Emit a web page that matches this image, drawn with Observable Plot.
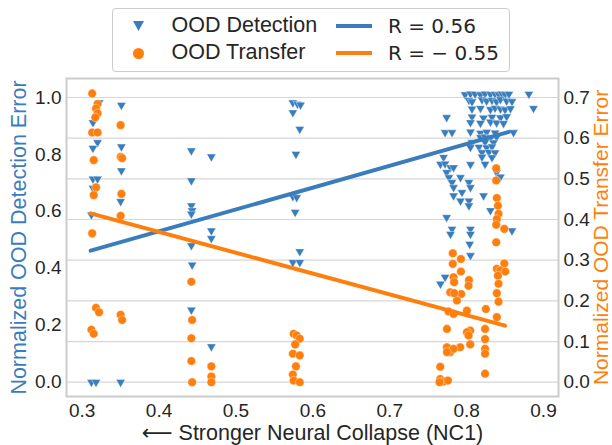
<!DOCTYPE html>
<html><head><meta charset="utf-8">
<script src="https://cdn.jsdelivr.net/npm/d3@7"></script>
<script src="https://cdn.jsdelivr.net/npm/@observablehq/plot@0.6"></script>
<style>
body{margin:0;background:#fff;}
#wrap{width:612px;}
#legend{position:relative;width:612px;height:75px;font-family:"Liberation Sans",Arial,sans-serif;color:#262626;}
#legend .box{position:absolute;left:112px;top:8px;width:398px;height:64px;border:1px solid #cccccc;border-radius:4px;box-sizing:border-box;}
#legend .t{position:absolute;white-space:nowrap;line-height:1;transform:translateY(-50%);}
#legend .ln{position:absolute;height:4px;}
#legend svg{position:absolute;}
</style></head><body>
<div id="wrap"><div id="legend"></div><div id="chart"></div></div>
<script>
const BLUE = "#3a7dbd", ORANGE = "#ff7f0e";
const xTicks = [0.3, 0.4, 0.5, 0.6, 0.7, 0.8, 0.9];
const leftTicks = [0.0, 0.2, 0.4, 0.6, 0.8, 1.0];
const rightTicks = [0.0, 0.1, 0.2, 0.3, 0.4, 0.5, 0.6, 0.7];
const rightMax = 0.7;
const seriesNames = ["OOD Detection", "OOD Transfer"];
const fitLabels = ["R = 0.56", "R = \u2212 0.55"];
const xTitle = "\u27F5 Stronger Neural Collapse (NC1)";
const leftTitle = "Normalized OOD Detection Error";
const rightTitle = "Normalized OOD Transfer Error";

// OOD detection (left axis)
const detX = [
 0.322,0.314,0.320,0.314,0.314,0.320,0.314,0.312,0.312,0.318,
 0.351,0.351,0.351,0.350,0.350,
 0.442,0.442,0.442,0.443,0.442,0.442,0.443,0.442,0.468,0.468,0.468,0.468,
 0.574,0.580,0.584,0.574,0.583,0.578,0.574,0.579,0.577,0.583,0.574,0.583,
 0.798,0.805,0.811,0.818,0.824,0.831,0.837,0.842,0.846,0.850,0.855,0.881,
 0.803,0.807,0.820,0.826,0.833,0.839,0.844,0.852,0.859,0.887,
 0.807,0.818,0.831,0.837,0.844,0.850,0.857,
 0.774,0.807,0.822,0.833,0.844,0.852,
 0.805,0.818,0.831,0.839,0.848,
 0.772,0.781,0.805,0.818,0.826,0.837,0.861,
 0.818,0.824,0.831,0.839,
 0.807,0.824,0.835,
 0.805,0.816,0.826,0.833,
 0.820,0.829,0.837,
 0.770,0.820,0.833,
 0.766,0.772,0.805,0.824,
 0.779,0.783,0.774,0.839,0.844,0.777,0.792,0.781,0.803,0.783,0.805,0.794,0.783,0.822,
 0.792,0.803,0.803,0.831,0.774,0.781,0.805,0.859,0.779,0.805,0.804,0.805,0.772,0.766
];
const detY = [
 0.982,0.912,0.842,0.822,0.714,0.714,0.682,0.588,0.000,0.000,
 0.973,0.827,0.743,0.635,0.000,
 0.813,0.708,0.620,0.603,0.591,0.480,0.412,0.254,0.792,0.532,0.505,0.125,
 0.982,0.977,0.974,0.947,0.889,0.801,0.652,0.649,0.597,0.459,0.421,0.421,
 1.010,1.013,1.012,1.010,1.013,1.011,1.012,1.010,1.013,1.011,1.012,1.012,
 0.990,0.985,0.992,0.988,0.990,0.985,0.993,0.988,0.986,0.962,
 0.960,0.962,0.958,0.963,0.960,0.957,0.961,
 0.930,0.932,0.928,0.931,0.929,0.933,
 0.912,0.910,0.914,0.911,0.909,
 0.877,0.877,0.879,0.875,0.878,0.876,0.877,
 0.860,0.862,0.858,0.861,
 0.842,0.843,0.841,
 0.825,0.826,0.824,0.827,
 0.807,0.808,0.806,
 0.790,0.791,0.789,
 0.766,0.767,0.765,0.766,
 0.754,0.754,0.737,0.737,0.721,0.719,0.719,0.702,0.702,0.684,0.684,0.667,0.655,0.655,
 0.637,0.637,0.620,0.603,0.579,0.538,0.538,0.532,0.520,0.520,0.485,0.445,0.369,0.345
];

// OOD transfer (right axis)
const trX = [
 0.313,0.320,0.318,0.320,0.317,0.313,0.320,0.315,0.318,0.315,0.313,0.318,0.322,0.312,0.315,
 0.350,0.350,0.352,0.351,0.350,0.350,0.352,
 0.442,0.443,0.442,0.442,0.443,0.468,0.468,0.468,
 0.575,0.579,0.583,0.577,0.574,0.583,0.578,0.574,0.575,0.583,
 0.8385,0.8385,0.8393,0.8407,0.8415,0.8393,0.8385,0.849,0.8385,0.849,0.8393,0.8437,0.8502,0.8407,0.8415,0.8393,0.8415,0.8393,
 0.825,0.824,0.824,0.824,0.824,0.824,
 0.803,0.8025,0.8004,0.8047,0.8004,0.8025,0.8047,0.7917,0.7926,0.7926,0.793,0.7874,
 0.782,0.782,0.783,0.7838,0.7787,0.7838,0.7765,0.783,0.7744,0.7744,0.7787,0.783,0.7744,0.7657,0.7657,0.770,0.7757,0.7648
];
const trY = [
 0.710,0.684,0.673,0.661,0.651,0.614,0.614,0.546,0.479,0.460,0.366,0.183,0.172,0.129,0.119,
 0.632,0.554,0.551,0.463,0.409,0.166,0.153,
 0.247,0.153,0.108,0.052,0.000,0.039,0.014,0.000,
 0.119,0.115,0.107,0.093,0.070,0.066,0.039,0.019,0.004,0.000,
 0.526,0.496,0.453,0.434,0.414,0.401,0.387,0.377,0.344,0.292,0.279,0.275,0.272,0.262,0.242,0.219,0.198,0.160,
 0.180,0.131,0.106,0.082,0.070,0.021,
 0.251,0.237,0.176,0.127,0.123,0.115,0.093,0.086,0.303,0.272,0.217,0.201,
 0.317,0.291,0.258,0.246,0.221,0.219,0.174,0.168,0.131,0.086,0.074,0.082,0.074,0.038,0.008,0.002,0.004,0.000
];

// fitted regression lines (end points)
const detFitX = [0.311, 0.855];
const detFitY = [0.462, 0.879];
const trFitX = [0.311, 0.850];
const trFitY = [0.415, 0.139];

// tables for the library
const det = detX.map((x, i) => ({x, y: detY[i]}));
const tr = trX.map((x, i) => ({x, y: trY[i] / rightMax}));
const detFit = detFitX.map((x, i) => ({x, y: detFitY[i]}));
const trFit = trFitX.map((x, i) => ({x, y: trFitY[i] / rightMax}));

const fmt = d3.format(".1f");
const chart = Plot.plot({
  width: 612, height: 370,
  marginTop: 3, marginBottom: 49, marginLeft: 66, marginRight: 54,
  x: {domain: [0.2796, 0.9195]},
  y: {domain: [-0.0502, 1.0667]},
  style: {fontFamily: '"Liberation Sans", Arial, sans-serif', fontSize: "19px", color: "#262626", background: "white", overflow: "visible"},
  marks: [
    Plot.ruleY(rightTicks.map(t => t / rightMax), {stroke: "#d6d6d6", strokeWidth: 1.2}),
    Plot.frame({stroke: "#cccccc", strokeWidth: 2}),
    Plot.axisX(xTicks, {tickSize: 0, tickPadding: 7, tickFormat: fmt, label: null, fill: "#262626"}),
    Plot.axisY(leftTicks, {anchor: "left", tickSize: 0, tickPadding: 5, tickFormat: fmt, label: null, fill: "#262626"}),
    Plot.axisY(rightTicks.map(t => t / rightMax), {anchor: "right", tickSize: 0, tickPadding: 5, tickFormat: d => fmt(d * rightMax), label: null, fill: "#262626"}),
    Plot.dot(det, {x: "x", y: "y", symbol: "triangle", rotate: 180, r: 3.4, fill: BLUE, stroke: "white", strokeWidth: 0.4}),
    Plot.line(detFit, {x: "x", y: "y", stroke: BLUE, strokeWidth: 4}),
    Plot.dot(tr, {x: "x", y: "y", symbol: "circle", r: 4.3, fill: ORANGE, stroke: "white", strokeWidth: 0.4}),
    Plot.line(trFit, {x: "x", y: "y", stroke: ORANGE, strokeWidth: 4}),
    Plot.text([leftTitle], {text: d => d, frameAnchor: "left", dx: -47.7, rotate: -90, textAnchor: "middle", lineAnchor: "middle", fill: BLUE, fontSize: 21.5}),
    Plot.text([rightTitle], {text: d => d, frameAnchor: "right", dx: 42.5, rotate: -90, textAnchor: "middle", lineAnchor: "middle", fill: ORANGE, fontSize: 21}),
    Plot.text([xTitle], {text: d => d, frameAnchor: "bottom", dy: 37, textAnchor: "middle", lineAnchor: "middle", fill: "#262626", fontSize: 21.5, fontFamily: '"Liberation Sans", "DejaVu Sans", sans-serif'})
  ]
});
document.getElementById("chart").appendChild(chart);

// legend
const lg = document.getElementById("legend");
lg.innerHTML = `
<div class="box"></div>
<svg style="left:132px;top:20px" width="13" height="12"><polygon points="1,1 12,1 6.5,11" fill="${BLUE}"/></svg>
<svg style="left:132px;top:47px" width="13" height="13"><circle cx="6.5" cy="6.5" r="5.5" fill="${ORANGE}"/></svg>
<div class="t" style="left:171.5px;top:25.5px;font-size:21.5px">${seriesNames[0]}</div>
<div class="t" style="left:171.5px;top:53px;font-size:21.5px">${seriesNames[1]}</div>
<div class="ln" style="left:336px;top:23.5px;width:36px;background:${BLUE}"></div>
<div class="ln" style="left:336px;top:51px;width:36px;background:${ORANGE}"></div>
<div class="t" style="left:388px;top:25.5px;font-size:20px;font-family:'DejaVu Sans',sans-serif">${fitLabels[0]}</div>
<div class="t" style="left:388px;top:53px;font-size:20px;font-family:'DejaVu Sans',sans-serif">${fitLabels[1]}</div>
`;
</script>
</body></html>
